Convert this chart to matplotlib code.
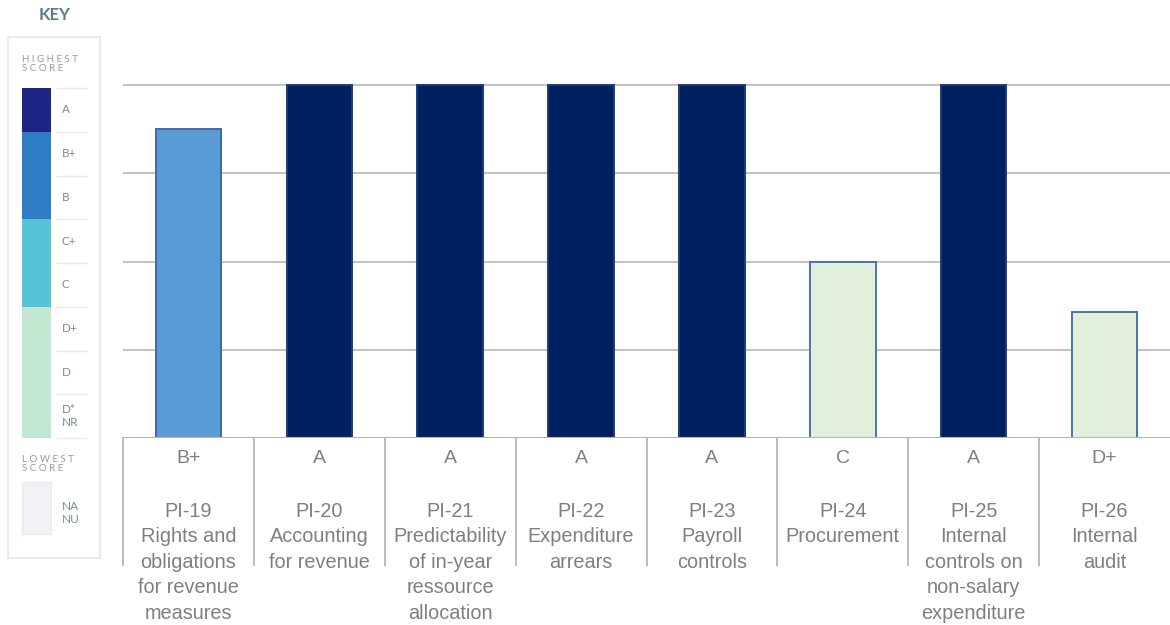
import numpy as np
import matplotlib
matplotlib.use("Agg")
import matplotlib.pyplot as plt
from matplotlib.patches import Rectangle

plt.rcParams['font.family'] = ['Liberation Sans', 'DejaVu Sans']

# data
indicators = ["PI-19\nRights and\nobligations\nfor revenue\nmeasures",
              "PI-20\nAccounting\nfor revenue",
              "PI-21\nPredictability\nof in-year\nressource\nallocation",
              "PI-22\nExpenditure\narrears",
              "PI-23\nPayroll\ncontrols",
              "PI-24\nProcurement",
              "PI-25\nInternal\ncontrols on\nnon-salary\nexpenditure",
              "PI-26\nInternal\naudit"]
grades = ["B+", "A", "A", "A", "A", "C", "A", "D+"]
scores = [3.5, 4, 4, 4, 4, 2, 4, 1.43]

# key / legend
key_labels = ["A", "B+", "B", "C+", "C", "D+", "D", "D*\nNR"]
key_bands = [("#1c2484", 1), ("#2e7cc3", 2), ("#57c3d6", 2), ("#c3e6d3", 3)]

fill_for = {"A": "#002060", "B+": "#5b9bd5", "C": "#e2efda", "D+": "#e2efda"}
edge_for = {"A": "#1f3a78", "B+": "#3f68ad", "C": "#4a72b8", "D+": "#4a72b8"}

W, H = 1170, 625
fig = plt.figure(figsize=(W / 100, H / 100), dpi=100)

# main chart: baseline at y=438px, grid step ~88px
ax = fig.add_axes([123 / W, 1 - 438 / H, 1 - 123 / W, 397 / H])
x = np.arange(len(scores))
ax.bar(x, scores, width=0.5,
       color=[fill_for[g] for g in grades],
       edgecolor=[edge_for[g] for g in grades], linewidth=1.4, zorder=3)
ax.set_xlim(-0.5, len(scores) - 0.5)
ax.set_ylim(0, 4.5)
for v in [1, 2, 3, 4]:
    ax.axhline(v, color="#c4c4c4", lw=1.5, zorder=1)
ax.axhline(0, color="#b5b5b5", lw=1.5, zorder=4)
for s in ax.spines.values():
    s.set_visible(False)
ax.set_xticks([])
ax.set_yticks([])

tr = ax.get_xaxis_transform()
for b in np.arange(len(scores)) - 0.5:
    ax.plot([b, b], [0, -0.32], transform=tr, color="#b5b5b5", lw=1.3, clip_on=False)
for i in range(len(scores)):
    ax.text(i, -0.052, grades[i], transform=tr, ha="center", va="center",
            fontsize=14, color="#7f7f7f")
    ax.text(i, -0.16, indicators[i], transform=tr, ha="center", va="top",
            fontsize=14.3, color="#7f7f7f", linespacing=1.44)

# key panel drawn in pixel coordinates
kx = fig.add_axes([0, 0, 1, 1])
kx.set_xlim(0, W)
kx.set_ylim(H, 0)
kx.axis("off")
kx.patch.set_alpha(0)
kfont = ['Lato', 'DejaVu Sans']
kx.text(55, 15, "KEY", ha="center", va="center", fontsize=12, fontweight="bold",
        color="#5f7a86", family=kfont)
kx.add_patch(Rectangle((8, 37), 92, 521, facecolor="white", edgecolor="#e3e7ee", lw=1.2))
kx.text(22, 64, "H I G H E S T\nS C O R E", ha="left", va="center", fontsize=7,
        color="#8d9ba4", family=kfont, linespacing=1.05)
y0, step = 88, 43.75
yy = y0
for col, n in key_bands:
    kx.add_patch(Rectangle((22, yy), 29, n * step, facecolor=col, edgecolor="none"))
    yy += n * step
for i, lab in enumerate(key_labels):
    top = y0 + i * step
    kx.plot([57, 86], [top, top], color="#e6e9ef", lw=1)
    kx.text(62, top + step / 2, lab, ha="left", va="center", fontsize=8.5,
            color="#7d8a92", family=kfont, linespacing=1.25)
kx.plot([57, 86], [y0 + len(key_labels) * step] * 2, color="#e6e9ef", lw=1)
kx.text(22, 464, "L O W E S T\nS C O R E", ha="left", va="center", fontsize=7,
        color="#8d9ba4", family=kfont, linespacing=1.05)
kx.add_patch(Rectangle((22, 482), 29, 52, facecolor="#f0f2f6", edgecolor="#e6e9ef", lw=0.8))
kx.text(62, 513, "NA\nNU", ha="left", va="center", fontsize=8.5,
        color="#7d8a92", family=kfont, linespacing=1.25)

fig.savefig("out.png", dpi=100)
